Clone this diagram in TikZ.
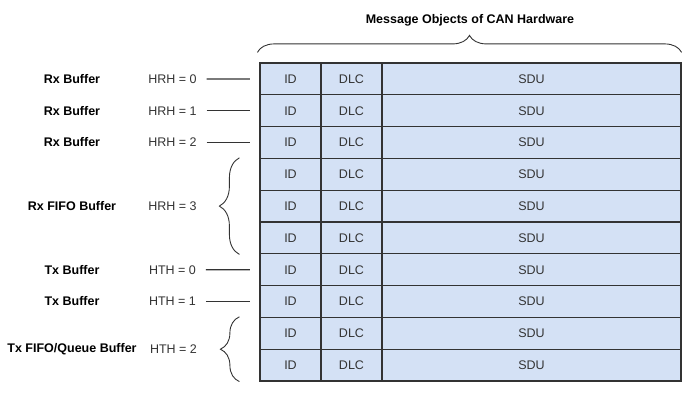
\documentclass[tikz,border=0pt]{standalone}
\usepackage{fontspec}
\setmainfont{Liberation Sans}
\usetikzlibrary{decorations.pathreplacing}
\definecolor{cellblue}{HTML}{D4E1F5}
\definecolor{darkline}{HTML}{333333}

\begin{document}
\begin{tikzpicture}[x=1pt,y=1pt,
  cell/.style={draw=darkline,fill=cellblue,line width=1.2pt,minimum height=31.8pt,
    inner sep=0pt,text=darkline,font=\fontsize{12.5}{15}\selectfont},
  bufname/.style={font=\fontsize{12.5}{15}\selectfont\bfseries,text=black},
  handle/.style={font=\fontsize{12.5}{15}\selectfont,text=darkline},
  conn/.style={draw=darkline,line width=1.2pt,shorten <=6.5pt,shorten >=9.5pt},
  bracket/.style={draw=darkline,line width=0.9pt,decorate,decoration={brace,amplitude=#1}}]

\useasboundingbox (0,0) rectangle (697,-413);

% message objects
\foreach \i in {0,...,9}{
  \node[cell,minimum width=61pt] (id\i) at (290.5,{-78.9-31.8*\i}) {ID};
  \node[cell,minimum width=61pt] (dlc\i) at (351.5,{-78.9-31.8*\i}) {DLC};
  \node[cell,minimum width=299pt] (sdu\i) at (531.5,{-78.9-31.8*\i}) {SDU};
}

\draw[bracket=17] ([xshift=-2pt,yshift=10pt]id0.north west) -- ([yshift=10pt]sdu0.north east);
\node[bufname] (title) at (470,-20) {Message Objects of CAN Hardware};

% receive side
\node[bufname] (rx0) at (72,-79) {Rx Buffer};
\node[handle] (hrh0) at (172.5,-79) {HRH = 0};
\draw[conn] (hrh0) -- (id0);

\node[bufname] (rx1) at (72,-110.7) {Rx Buffer};
\node[handle] (hrh1) at (172.5,-110.7) {HRH = 1};
\draw[conn] (hrh1) -- (id1);

\node[bufname] (rx2) at (72,-142.5) {Rx Buffer};
\node[handle] (hrh2) at (172.5,-142.5) {HRH = 2};
\draw[conn] (hrh2) -- (id2);

\node[bufname] (rxfifo) at (72,-206.1) {Rx FIFO Buffer};
\node[handle] (hrh3) at (172.5,-206.1) {HRH = 3};
\draw[bracket=20] ([xshift=-20pt]id5.south west) -- ([xshift=-20pt]id3.north west);

% transmit side
\node[bufname] (tx0) at (72,-269.7) {Tx Buffer};
\node[handle] (hth0) at (172.5,-269.7) {HTH = 0};
\draw[conn] (hth0) -- (id6);

\node[bufname] (tx1) at (72,-301.5) {Tx Buffer};
\node[handle] (hth1) at (172.5,-301.5) {HTH = 1};
\draw[conn] (hth1) -- (id7);

\node[bufname] (txfifo) at (72,-349.2) {Tx FIFO/Queue Buffer};
\node[handle] (hth2) at (173.5,-349.2) {HTH = 2};
\draw[bracket=19] ([xshift=-20pt]id9.south west) -- ([xshift=-20pt]id8.north west);

\end{tikzpicture}
\end{document}
